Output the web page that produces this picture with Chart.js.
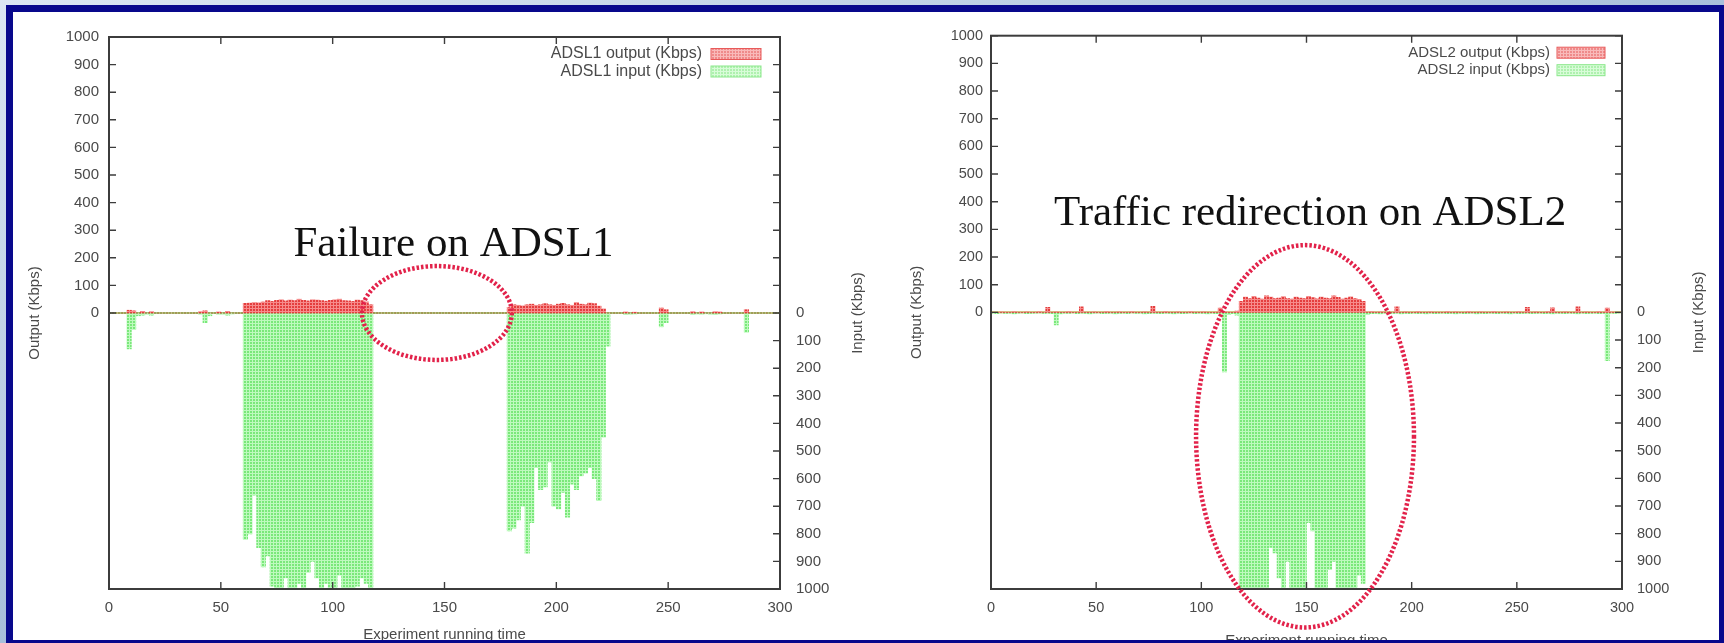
<!DOCTYPE html>
<html>
<head>
<meta charset="utf-8">
<script src="https://cdn.jsdelivr.net/npm/chart.js@4.4.1/dist/chart.umd.min.js"></script>
<style>
  html, body { margin: 0; padding: 0; }
  body { width: 1724px; height: 643px; overflow: hidden; position: relative;
         background: linear-gradient(160deg, #dce7f3 0%, #aec4de 45%, #7393bb 100%); }
  #frame { position: absolute; left: 6px; top: 5px; width: 1720px; height: 642px; box-sizing: border-box;
           border: 7px solid #08088c; background: #fff; overflow: hidden; }
  #frame canvas { position: absolute; top: 0; }
</style>
</head>
<body>
<div id="frame">
  <canvas id="adsl1" width="870" height="640" style="left:0"></canvas>
  <canvas id="adsl2" width="836" height="640" style="left:870px"></canvas>
</div>
<script>
// one bar every 2 seconds of the experiment (bar centre)
const seconds = Array.from({ length: 150 }, (_, i) => i * 2 + 1);
const xTicks = [0, 50, 100, 150, 200, 250, 300];

// ADSL1 (Kbps), output > 0, input drawn below zero
const adsl1Out = [
  0,0,0,0,10,8,0,6,0,5,
  0,0,0,0,0,0,0,0,0,0,
  5,8,0,0,4,0,6,0,0,0,
  35,36,38,37,40,45,42,46,48,44,
  47,45,50,46,44,48,47,45,43,46,
  48,50,45,44,42,47,45,40,30,0,
  0,0,0,0,0,0,0,0,0,0,
  0,0,0,0,0,0,0,0,0,0,
  0,0,0,0,0,0,0,0,0,20,
  30,28,26,30,32,28,30,34,30,28,
  32,35,30,28,38,32,30,36,34,25,
  15,0,0,0,0,4,0,3,0,0,
  0,0,0,18,12,0,0,0,0,0,
  5,0,4,0,0,5,4,0,0,0,
  0,0,12,0,0,0,0,0,0,0
];
const adsl1In = [
  0,0,0,0,-130,-60,-10,-8,-5,-8,
  0,0,0,0,0,0,0,0,0,0,
  -5,-35,-10,0,-5,-5,-8,-4,0,0,
  -820,-800,-660,-850,-920,-880,-990,-1000,-1000,-960,
  -1000,-1000,-980,-1000,-940,-900,-960,-1000,-980,-1000,
  -1000,-950,-1000,-1000,-1000,-990,-960,-980,-1000,0,
  0,0,0,0,0,0,0,0,0,0,
  0,0,0,0,0,0,0,0,0,0,
  0,0,0,0,0,0,0,0,0,-790,
  -780,-750,-700,-870,-760,-560,-640,-630,-540,-700,
  -710,-650,-740,-620,-640,-590,-580,-560,-600,-680,
  -450,-120,0,0,0,-6,-5,-4,0,0,
  0,0,0,-50,-35,0,0,0,0,0,
  -6,-4,-5,-3,-5,-6,-4,0,0,0,
  0,0,-70,0,0,0,0,0,0,0
];

// ADSL2 (Kbps)
const adsl2Out = [
  0,0,2,0,0,3,0,0,2,0,
  0,3,0,18,0,2,0,0,3,0,
  0,20,0,0,2,0,0,3,0,0,
  2,0,0,3,0,0,2,0,22,0,
  0,3,0,0,2,0,0,3,0,0,
  2,0,0,0,15,3,0,0,5,40,
  55,50,58,52,48,60,55,50,52,57,
  50,48,55,52,50,58,53,49,55,52,
  50,60,54,48,52,56,50,47,40,0,
  3,0,2,0,0,0,20,0,2,0,
  0,3,0,0,2,0,0,0,3,0,
  2,0,0,3,0,0,2,0,0,3,
  0,0,2,0,0,3,0,18,0,2,
  0,0,3,16,0,0,2,0,0,20,
  0,2,0,0,3,0,15,2,0,0
];
const adsl2In = [
  -3,-5,-2,-4,-3,-6,-3,-2,-5,-4,
  -3,-2,-4,-3,-5,-45,-6,-3,-4,-2,
  -5,-3,-4,-6,-3,-2,-5,-4,-3,-6,
  -4,-3,-5,-2,-4,-3,-6,-5,-3,-4,
  -5,-3,-4,-6,-3,-5,-4,-2,-5,-3,
  -4,-6,-3,-5,-4,-215,-8,-5,-10,-1000,
  -1000,-1000,-1000,-1000,-1000,-1000,-850,-870,-960,-1000,
  -900,-1000,-1000,-1000,-1000,-760,-790,-1000,-1000,-1000,
  -930,-900,-1000,-1000,-1000,-1000,-1000,-950,-980,-8,
  -5,-4,-6,-3,-5,-4,-3,-6,-4,-5,
  -3,-5,-4,-6,-3,-5,-4,-3,-5,-4,
  -6,-3,-5,-4,-3,-6,-4,-5,-3,-4,
  -5,-3,-4,-6,-3,-5,-4,-3,-5,-4,
  -3,-5,-4,-6,-3,-4,-5,-3,-4,-6,
  -3,-5,-4,-3,-5,-4,-175,-3,-4,-2
];

const SANS = '"Liberation Sans", Arial, sans-serif';
const INK = '#4a4a4a';

// gnuplot fills boxes with a dot pattern, fake it with a tiny tile
function dots(bg, fg) {
  const c = document.createElement('canvas');
  c.width = 3; c.height = 3;
  const g = c.getContext('2d');
  g.fillStyle = bg; g.fillRect(0, 0, 3, 3);
  g.fillStyle = fg; g.fillRect(0, 0, 2, 2);
  return g.createPattern(c, 'repeat');
}
const RED = dots('rgb(246,140,140)', 'rgb(228,62,62)');
const GREEN = dots('rgb(190,250,190)', 'rgb(122,232,122)');

// gnuplot-like frame, inward ticks, legend, zero line and the slide annotations
const gnuplotLook = {
  id: 'gnuplotLook',
  beforeDatasetsDraw(chart, args, o) {
    const { ctx, chartArea: a, scales: { y } } = chart;
    const y0 = y.getPixelForValue(0);
    ctx.save();
    ctx.strokeStyle = o.zeroColor;
    ctx.lineWidth = 2;
    ctx.beginPath(); ctx.moveTo(a.left, y0); ctx.lineTo(a.right, y0); ctx.stroke();
    ctx.restore();
  },
  afterDatasetsDraw(chart, args, o) {
    const { ctx, chartArea: a, scales: { x, y, y2 } } = chart;
    ctx.save();
    ctx.strokeStyle = '#3c3c3c';
    ctx.lineWidth = 2;
    ctx.strokeRect(a.left, a.top, a.right - a.left, a.bottom - a.top);
    ctx.lineWidth = 1.4;
    ctx.beginPath();
    x.ticks.forEach(t => {
      const px = x.getPixelForValue(t.value);
      ctx.moveTo(px, a.bottom); ctx.lineTo(px, a.bottom - 7);
      ctx.moveTo(px, a.top); ctx.lineTo(px, a.top + 7);
    });
    y.ticks.forEach(t => {
      if (t.value < 0) return;
      const py = y.getPixelForValue(t.value);
      ctx.moveTo(a.left, py); ctx.lineTo(a.left + 7, py);
    });
    y2.ticks.forEach(t => {
      const py = y2.getPixelForValue(t.value);
      ctx.moveTo(a.right, py); ctx.lineTo(a.right - 7, py);
    });
    ctx.stroke();

    // legend (text then swatch, like gnuplot)
    ctx.font = o.legendFont;
    ctx.textAlign = 'right';
    ctx.textBaseline = 'middle';
    chart.data.datasets.forEach((ds, i) => {
      const ly = a.top + 17 + i * 17.5;
      const bx = a.right - o.legendBox[0], bw = o.legendBox[0] - o.legendBox[1];
      ctx.fillStyle = INK;
      ctx.fillText(ds.label, a.right - o.legendText, ly);
      ctx.globalAlpha = 0.6;
      ctx.fillStyle = ds.backgroundColor;
      ctx.fillRect(bx, ly - 5.5, bw, 11);
      ctx.globalAlpha = 1;
      ctx.strokeStyle = ds.swatchLine;
      ctx.lineWidth = 1;
      ctx.strokeRect(bx, ly - 5.5, bw, 11);
    });

    // right axis title, read bottom-up
    ctx.save();
    ctx.translate(a.right + o.rightTitle, (a.top + a.bottom) / 2);
    ctx.rotate(-Math.PI / 2);
    ctx.font = '15px ' + SANS;
    ctx.textAlign = 'center';
    ctx.fillStyle = INK;
    ctx.fillText('Input (Kbps)', 0, 0);
    ctx.restore();

    // dotted ellipse
    const r = o.ring;
    const cx = x.getPixelForValue(r.x), cy = y.getPixelForValue(r.y);
    const rx = Math.abs(x.getPixelForValue(r.x + r.rx) - cx);
    const ry = Math.abs(y.getPixelForValue(r.y + r.ry) - cy);
    ctx.strokeStyle = 'rgb(226,34,74)';
    ctx.lineWidth = 4.5;
    ctx.setLineDash([2.5, 2]);
    ctx.beginPath(); ctx.ellipse(cx, cy, rx, ry, 0, 0, Math.PI * 2); ctx.stroke();
    ctx.setLineDash([]);

    // note
    const n = o.note;
    ctx.font = '43px "Liberation Serif", "Times New Roman", serif';
    ctx.textAlign = 'center';
    ctx.fillStyle = '#111';
    ctx.fillText(n.text, x.getPixelForValue(n.x), y.getPixelForValue(n.y));
    ctx.restore();
  }
};

function makeChart(id, name, outVals, inVals, look) {
  const pts = vals => vals.map((v, i) => ({ x: seconds[i], y: v }));
  const bar = { grouped: false, barPercentage: 1, categoryPercentage: 1, borderWidth: 0 };
  return new Chart(document.getElementById(id), {
    type: 'bar',
    data: {
      datasets: [
        { label: name + ' output (Kbps)', data: pts(outVals), backgroundColor: RED, swatchLine: 'rgb(232,90,90)', ...bar },
        { label: name + ' input (Kbps)', data: pts(inVals), backgroundColor: GREEN, swatchLine: 'rgb(140,232,140)', ...bar }
      ]
    },
    options: {
      responsive: false,
      animation: false,
      layout: { padding: { top: 17, left: 0, right: 0, bottom: 0 } },
      scales: {
        x: {
          type: 'linear', min: 0, max: 300, offset: false,
          afterBuildTicks: s => { s.ticks = xTicks.map(v => ({ value: v })); },
          afterFit: s => { s.height = 63; },
          grid: { display: false, drawTicks: false },
          border: { display: false },
          ticks: { padding: 10, color: INK, font: { family: SANS, size: look.font } },
          title: { display: true, text: 'Experiment running time', color: INK,
                   font: { family: SANS, size: 15 }, padding: { top: 0, bottom: look.xTitlePad } }
        },
        y: {
          position: 'left', min: -1000, max: 1000,
          afterFit: s => { s.width = look.leftW; },
          grid: { display: false, drawTicks: false },
          border: { display: false },
          ticks: { stepSize: 100, autoSkip: false, padding: look.leftPad, color: INK,
                   font: { family: SANS, size: look.font },
                   callback: v => (v >= 0 ? v : '') },
          title: { display: true, text: 'Output (Kbps)', color: INK,
                   font: { family: SANS, size: 15 }, padding: { top: look.leftTitlePad, bottom: 0 } }
        },
        y2: {
          position: 'right', min: -1000, max: 1000,
          afterFit: s => { s.width = look.rightW; },
          grid: { display: false, drawTicks: false },
          border: { display: false },
          ticks: { stepSize: 100, autoSkip: false, padding: look.rightPad, color: INK,
                   font: { family: SANS, size: look.font },
                   callback: v => (v <= 0 ? Math.abs(v) : '') }
        }
      },
      plugins: {
        legend: { display: false },
        tooltip: { enabled: false },
        gnuplotLook: look
      }
    },
    plugins: [gnuplotLook]
  });
}

makeChart('adsl1', 'ADSL1', adsl1Out, adsl1In, {
  font: 15, leftW: 96, rightW: 103, leftPad: 10, rightPad: 16, leftTitlePad: 13, xTitlePad: 8,
  rightTitle: 78, legendFont: '16px ' + SANS, legendText: 78, legendBox: [69, 19],
  zeroColor: 'rgb(125,205,95)',
  note: { text: 'Failure on ADSL1', x: 154, y: 246 },
  ring: { x: 146.6, y: 0, rx: 33.5, ry: 170 }
});

makeChart('adsl2', 'ADSL2', adsl2Out, adsl2In, {
  font: 14.5, leftW: 108, rightW: 97, leftPad: 8, rightPad: 15, leftTitlePad: 25, xTitlePad: 2,
  rightTitle: 77, legendFont: '15px ' + SANS, legendText: 72, legendBox: [65, 17],
  zeroColor: 'rgb(200,170,90)',
  note: { text: 'Traffic redirection on ADSL2', x: 151.7, y: 357 },
  ring: { x: 149.3, y: -448, rx: 51.8, ry: 691 }
});
</script>
</body>
</html>
